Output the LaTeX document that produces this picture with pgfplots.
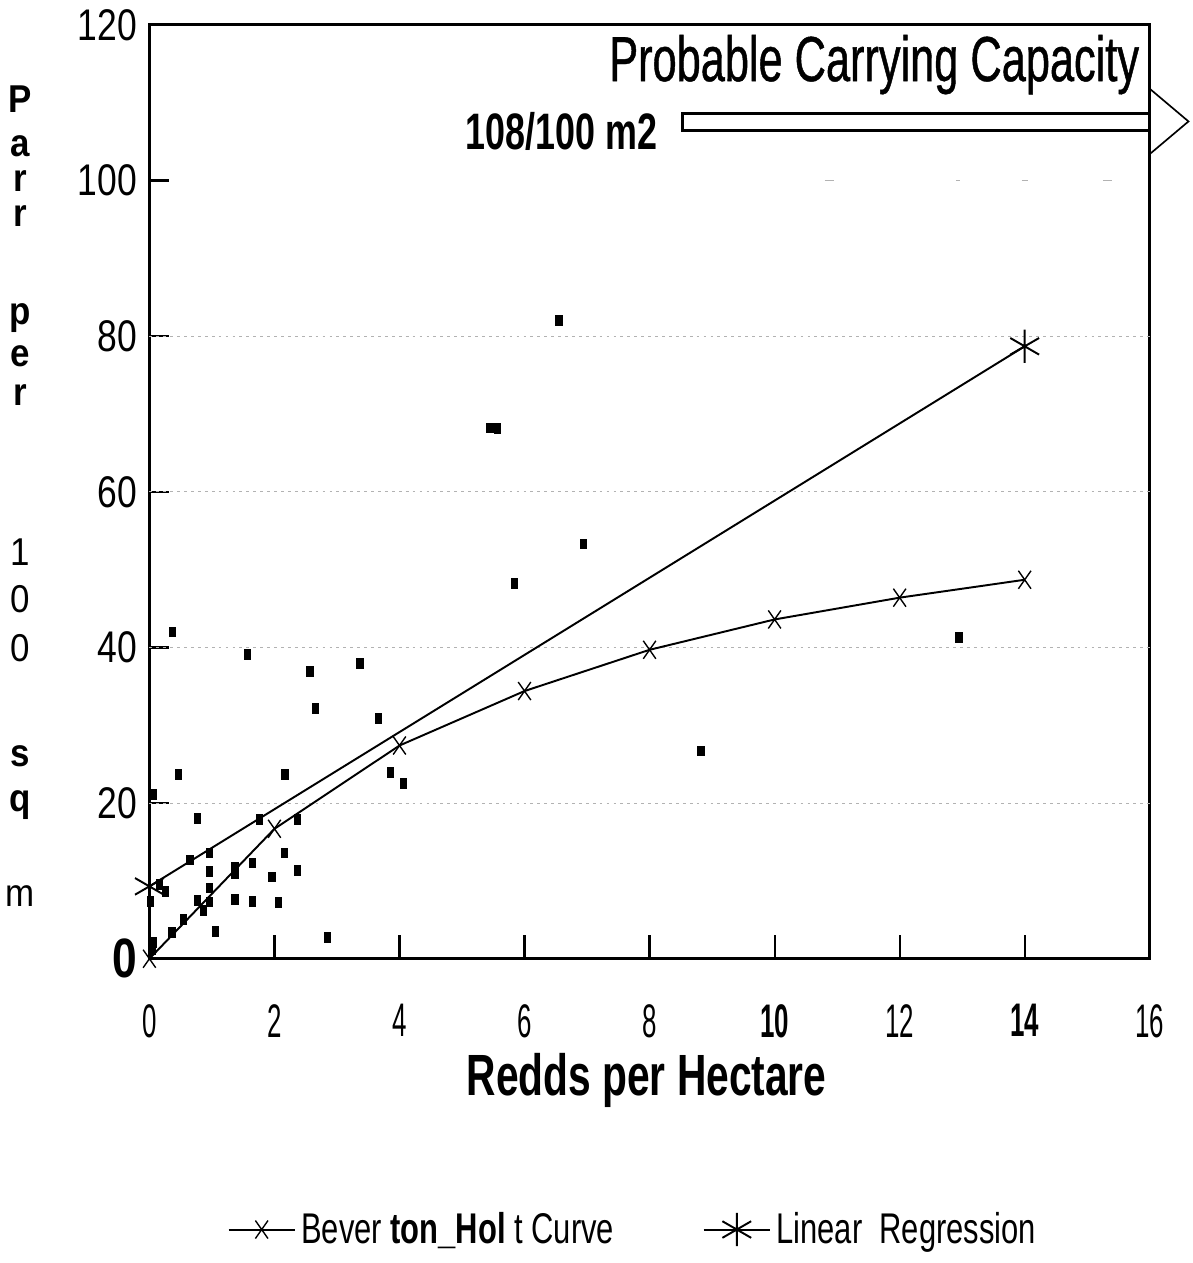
\documentclass[border=0pt]{standalone}
\usepackage{fontspec}
\setmainfont{Liberation Sans}
\newfontfamily\condX{Liberation Sans}[FakeStretch=0.55]
\newfontfamily\condY{Liberation Sans}[FakeStretch=0.8]
\newfontfamily\condT{Liberation Sans}[FakeStretch=0.68, FakeBold=0.7]
\newfontfamily\condTT{Liberation Sans}[FakeStretch=0.7]
\newfontfamily\condL{Liberation Sans}[FakeStretch=0.72]
\newfontfamily\condV{Liberation Sans}[FakeStretch=0.9]
\usepackage{pgfplots}
\pgfplotsset{compat=1.18}
\tikzset{vb/.style={font=\condV\bfseries\fontsize{14}{14}\selectfont, inner sep=0pt},
         vm/.style={font=\condV\fontsize{14}{14}\selectfont, inner sep=0pt}}
\begin{document}
\begin{tikzpicture}
\begin{axis}[
  scale only axis,
  width=361pt, height=337pt,
  xmin=0, xmax=16, ymin=0, ymax=120,
  xtick={0,2,...,16}, ytick={0,20,...,120},
  xticklabels={0,2,4,6,8,{\bfseries 10},12,{\bfseries 14},16},
  yticklabels={{\bfseries\fontsize{20}{20}\selectfont 0},20,40,60,80,100,120},
  /pgf/number format/assume math mode=true,
  tick pos=left,
  tick align=inside,
  major tick length=7pt,
  major tick style={draw=black, line width=0.8pt},
  axis line style={line width=1.1pt},
  xticklabel style={font=\condX\fontsize{17}{17}\selectfont, yshift=-13pt},
  yticklabel style={font=\condY\fontsize{16}{16}\selectfont, xshift=-1pt},
  xlabel={\bfseries Redds per Hectare},
  xlabel style={font=\condTT\fontsize{21}{22}\selectfont, at={(axis description cs:0.497,-0.130)}, anchor=center},
  clip=false,
  legend columns=2,
  legend style={at={(axis description cs:0.485,-0.29)}, anchor=center, draw=none, fill=none,
     font=\condL\fontsize{15.5}{16}\selectfont, /tikz/every even column/.append style={column sep=30pt}},
  legend image code/.code={
     \draw[#1, mark repeat=2, mark phase=2] plot coordinates {(0cm,0cm) (0.42cm,0cm) (0.84cm,0cm)};},
]
% grid lines
\draw[gray!60, line width=0.4pt, dash pattern=on 1pt off 1.5pt] (axis cs:0,20) -- (axis cs:16,20);
\draw[gray!60, line width=0.4pt, dash pattern=on 1pt off 1.5pt] (axis cs:0,40) -- (axis cs:16,40);
\draw[gray!60, line width=0.4pt, dash pattern=on 1pt off 1.5pt] (axis cs:0,60) -- (axis cs:16,60);
\draw[gray!60, line width=0.4pt, dash pattern=on 1pt off 1.5pt] (axis cs:0,80) -- (axis cs:16,80);
\draw[gray!60, line width=0.5pt] (axis cs:10.8,100) -- (axis cs:10.95,100);
\draw[gray!60, line width=0.5pt] (axis cs:12.9,100) -- (axis cs:12.97,100);
\draw[gray!60, line width=0.5pt] (axis cs:13.95,100) -- (axis cs:14.05,100);
\draw[gray!60, line width=0.5pt] (axis cs:15.25,100) -- (axis cs:15.4,100);
% ticks
\draw[black, line width=0.8pt] (axis cs:2,0.2) -- (axis cs:2,3);
\draw[black, line width=0.8pt] (axis cs:4,0.2) -- (axis cs:4,3);
\draw[black, line width=0.8pt] (axis cs:6,0.2) -- (axis cs:6,3);
\draw[black, line width=0.8pt] (axis cs:8,0.2) -- (axis cs:8,3);
\draw[black, line width=0.8pt] (axis cs:10,0.2) -- (axis cs:10,3);
\draw[black, line width=0.8pt] (axis cs:12,0.2) -- (axis cs:12,3);
\draw[black, line width=0.8pt] (axis cs:14,0.2) -- (axis cs:14,3);

% Beverton-Holt
\addplot[black, line width=0.7pt, mark=x, mark size=4.6pt, mark options={xscale=0.7, line width=0.5pt}]
  coordinates {(0,0) (2,16.7) (4,27.4) (6,34.4) (8,39.7) (10,43.6) (12,46.4) (14,48.7)};
\addlegendentry{Bever {\bfseries ton\_Hol} t Curve}
% Linear regression
\addplot[black, line width=0.7pt, mark=asterisk, mark size=6pt, mark options={line width=0.7pt}]
  coordinates {(0,9.3) (14,78.7)};
\addlegendentry{Linear\ \ Regression}
% observed
\addplot[only marks, mark=square*, mark size=1.4pt, mark options={xscale=0.8, yscale=1.25, black}, forget plot]
  coordinates {
  (0.37,42.0) (1.57,39.1) (2.57,36.9) (3.37,37.9) (2.66,32.2) (3.66,30.9)
  (0.47,23.7) (2.17,23.7) (3.86,23.9) (4.06,22.5) (0.07,21.1)
  (0.77,18.0) (1.76,17.9) (2.37,17.9) (0.65,12.7) (0.96,13.6) (2.16,13.6)
  (1.65,12.3) (0.96,11.2) (1.37,11.7) (1.37,10.9) (1.96,10.5) (2.37,11.3)
  (0.96,9.1) (0.26,8.6) (0.16,9.5) (0.02,7.4) (0.77,7.5) (0.96,7.3)
  (1.37,7.6) (1.65,7.4) (2.06,7.2) (0.86,6.2) (0.55,5.0) (0.36,3.4)
  (1.06,3.5) (2.85,2.7) (0.06,2.1) (0.04,1.2)
  (6.55,82.0) (5.45,68.2) (5.57,68.1) (6.94,53.3) (5.84,48.2)
  (12.95,41.3) (8.82,26.7)
  };

% annotation
\node[anchor=east, font=\condT\fontsize{23}{24}\selectfont, inner sep=0pt] at (axis cs:15.84,114.9) {Probable Carrying Capacity};
\node[anchor=east, font=\condTT\bfseries\fontsize{18.5}{19}\selectfont, inner sep=0pt] at (axis cs:8.13,106.3) {108/100 m2};
\draw[line width=1.1pt] (axis cs:16,108.6) -- (axis cs:8.53,108.6) -- (axis cs:8.53,106.4) -- (axis cs:16,106.4);
\draw[line width=0.6pt] (axis cs:16,111.8) -- (axis cs:16.62,107.6) -- (axis cs:16,103.4);

% vertical y label
\node[vb] at (axis cs:-2.07,110.5) {P};
\node[vb] at (axis cs:-2.07,104.4) {a};
\node[vb] at (axis cs:-2.07,99.9) {r};
\node[vb] at (axis cs:-2.07,95.4) {r};
\node[vb] at (axis cs:-2.07,82.3) {p};
\node[vb] at (axis cs:-2.07,77.4) {e};
\node[vb] at (axis cs:-2.07,72.5) {r};
\node[vm] at (axis cs:-2.07,52.3) {1};
\node[vm] at (axis cs:-2.07,46.2) {0};
\node[vm] at (axis cs:-2.07,39.9) {0};
\node[vb] at (axis cs:-2.07,26.0) {s};
\node[vb] at (axis cs:-2.07,19.8) {q};
\node[vm] at (axis cs:-2.07,8.1) {m};
% bounding box matching reference
\path (axis cs:-2.39,-39.1) rectangle (axis cs:16.68,122.8);
\end{axis}
\end{tikzpicture}
\end{document}
